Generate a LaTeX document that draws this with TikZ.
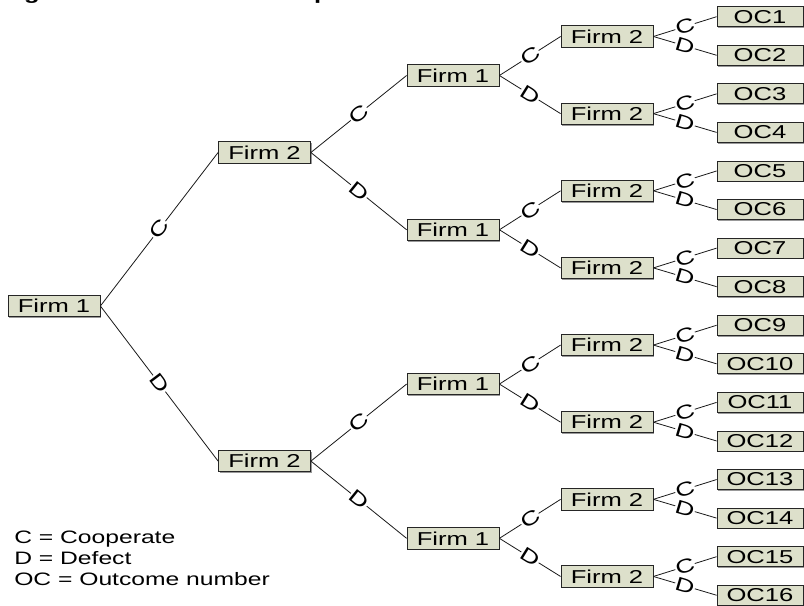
\documentclass[tikz,border=0pt]{standalone}
\usepackage{fontspec}
\setmainfont{Liberation Sans}[FakeStretch=1.37]
\usetikzlibrary{shadows}
\definecolor{boxfill}{RGB}{221,224,203}
\begin{document}
\begin{tikzpicture}[x=0.75pt,y=-0.75pt,
  box/.style={draw=black!85, line width=0.6pt, fill=boxfill, inner sep=0pt,
    font=\fontsize{14}{16}\selectfont,
    drop shadow={shadow xshift=1pt, shadow yshift=-1pt, fill=black!40, opacity=1}},
  firm/.style={box, minimum width=69pt, minimum height=16pt},
  oc/.style={box, minimum width=64.5pt, minimum height=15pt},
  edge/.style={draw=black!90, line width=0.6pt},
  lab/.style={sloped, fill=white, inner sep=0.4pt, font=\fontsize{14.5}{15}\selectfont}
]
\useasboundingbox (0,0) rectangle (804,606);
\clip (0,0) rectangle (804,606);
% cut-off title fragments
\node[anchor=base, inner sep=0, font=\bfseries\fontsize{14}{16}\selectfont] (tg) at (32,-0.5) {g};
\node[anchor=base, inner sep=0, font=\bfseries\fontsize{14}{16}\selectfont] (tp) at (322,-0.5) {p};

\node[firm] (r) at (54,306) {Firm 1};
\foreach \i in {1,2} { \node[firm] (a\i) at (264.5,{152.5+308.6*(\i-1)}) {Firm 2}; }
\foreach \i in {1,...,4} { \node[firm] (b\i) at (453,{75.5+154.28*(\i-1)}) {Firm 1}; }
\foreach \i in {1,...,8} { \node[firm] (c\i) at (607,{36.5+77.14*(\i-1)}) {Firm 2}; }
\foreach \i in {1,...,16} { \node[oc] (o\i) at (760,{16.7+38.57*(\i-1)}) {OC\i}; }

\draw[edge] (r.east) -- node[lab]{C} (a1.west);
\draw[edge] (r.east) -- node[lab]{D} (a2.west);
\foreach \i in {1,2} {
  \pgfmathtruncatemacro\jc{2*\i-1}
  \pgfmathtruncatemacro\jd{2*\i}
  \draw[edge] (a\i.east) -- node[lab]{C} (b\jc.west);
  \draw[edge] (a\i.east) -- node[lab]{D} (b\jd.west);
}
\foreach \i in {1,...,4} {
  \pgfmathtruncatemacro\jc{2*\i-1}
  \pgfmathtruncatemacro\jd{2*\i}
  \draw[edge] (b\i.east) -- node[lab]{C} (c\jc.west);
  \draw[edge] (b\i.east) -- node[lab]{D} (c\jd.west);
}
\foreach \i in {1,...,8} {
  \pgfmathtruncatemacro\jc{2*\i-1}
  \pgfmathtruncatemacro\jd{2*\i}
  \draw[edge] (c\i.east) -- node[lab, pos=0.5]{C} (o\jc.west);
  \draw[edge] (c\i.east) -- node[lab, pos=0.5]{D} (o\jd.west);
}

\node[anchor=north west, align=left, inner sep=0, font=\fontsize{13.5}{15.5}\selectfont] (legend) at (14,531)
  {C = Cooperate\\D = Defect\\OC = Outcome number};
\end{tikzpicture}
\end{document}
